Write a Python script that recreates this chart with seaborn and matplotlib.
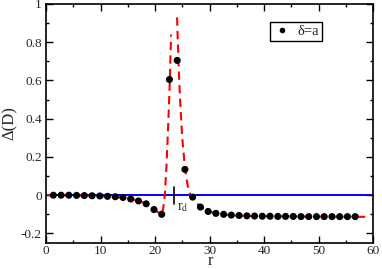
import numpy as np
import pandas as pd
import matplotlib
matplotlib.use("Agg")
import matplotlib.pyplot as plt
import seaborn as sns
from matplotlib.ticker import MultipleLocator

# data points (delta = a)
r_pts = [1.35, 2.77, 4.19, 5.61, 7.03, 8.45, 9.87, 11.29, 12.71, 14.13,
         15.55, 16.97, 18.39, 19.81, 21.23, 22.65, 24.07, 25.49, 26.91, 28.33,
         29.75, 31.17, 32.59, 34.01, 35.43, 36.85, 38.27, 39.69, 41.11, 42.53,
         43.95, 45.37, 46.79, 48.21, 49.63, 51.05, 52.47, 53.89, 55.31, 56.73]
d_pts = [0.0, 0.0, 0.0, -0.001, -0.002, -0.003, -0.004, -0.006, -0.008, -0.012,
         -0.02, -0.03, -0.045, -0.075, -0.1, 0.605, 0.705, 0.135, -0.01, -0.062,
         -0.085, -0.095, -0.1, -0.104, -0.106, -0.108, -0.109, -0.11, -0.11, -0.111,
         -0.111, -0.111, -0.112, -0.112, -0.112, -0.112, -0.112, -0.112, -0.112, -0.112]

# theory curve, left branch (r < r_d)
r_left = [0.0, 5.0, 10.0, 12.0, 14.0, 16.0, 17.0, 18.4, 19.8, 20.5, 21.2, 21.5,
          21.8, 22.1, 22.4, 22.7, 22.95]
d_left = [0.0, -0.001, -0.005, -0.008, -0.013, -0.022, -0.03, -0.045, -0.073,
          -0.088, -0.1, -0.07, 0.0, 0.15, 0.35, 0.58, 0.84]
# theory curve, right branch (r > r_d)
r_right = [24.05, 24.3, 24.6, 25.0, 25.5, 26.0, 26.5, 27.0, 27.5, 28.3, 29.8,
           31.3, 33.0, 35.0, 40.0, 50.0, 59.3]
d_right = [0.93, 0.7, 0.5, 0.3, 0.14, 0.05, 0.0, -0.015, -0.035, -0.06, -0.085,
           -0.095, -0.102, -0.107, -0.11, -0.112, -0.113]

r_d = 23.4

sns.set_theme(style="ticks")
plt.rcParams['font.family'] = ['Liberation Serif', 'DejaVu Serif']
plt.rcParams['mathtext.fontset'] = 'stix'

fig = plt.figure(figsize=(3.82, 2.69), dpi=100)
ax = fig.add_axes([46/382, 1-243/269, (373-46)/382, (243-4)/269])

ax.axhline(0, color='#0000ff', lw=1.4, zorder=1)

sns.lineplot(x=r_left, y=d_left, ax=ax, color='#ff0000', lw=1.5,
             linestyle=(0, (4, 2.5)), sort=False, zorder=2)
sns.lineplot(x=r_right, y=d_right, ax=ax, color='#ff0000', lw=1.5,
             linestyle=(0, (4, 2.5)), sort=False, zorder=2)

df = pd.DataFrame({'r': r_pts, 'D': d_pts, 'lab': ['δ=a'] * len(r_pts)})
sns.scatterplot(data=df, x='r', y='D', hue='lab', palette=['black'], ax=ax,
                s=26, edgecolor='black', linewidth=0, zorder=3)

ax.plot([r_d, r_d], [-0.045, 0.045], color='black', lw=1.2, zorder=4)
ax.text(24.0, -0.065, r'r$_{\rm d}$', fontsize=10, va='center', ha='left')

ax.set_xlim(0, 60)
ax.set_ylim(-0.25, 1.0)
ax.xaxis.set_major_locator(MultipleLocator(10))
ax.xaxis.set_minor_locator(MultipleLocator(5))
ax.yaxis.set_major_locator(MultipleLocator(0.2))
ax.yaxis.set_minor_locator(MultipleLocator(0.1))
ax.set_yticks([-0.2, 0, 0.2, 0.4, 0.6, 0.8, 1])
ax.set_yticklabels(['-0.2', '0', '0.2', '0.4', '0.6', '0.8', '1'])
ax.tick_params(which='both', direction='in', top=True, right=True, labelsize=9.5,
               color='black', pad=3)
ax.tick_params(axis='x', which='both', pad=1.5)
ax.tick_params(which='major', length=5, width=1)
ax.tick_params(which='minor', length=2.5, width=1)
for s in ax.spines.values():
    s.set_color('black')
    s.set_linewidth(1.2)

ax.set_xlabel('r', fontsize=12)
ax.set_ylabel('Δ(D)', fontsize=12)
ax.xaxis.set_label_coords((210-46)/327, (243-261)/239)
ax.xaxis.label.set_verticalalignment('center')
ax.yaxis.set_label_coords((10-46)/327, 0.5)
ax.yaxis.label.set_verticalalignment('center')

leg = ax.legend(loc='upper right', bbox_to_anchor=((322-46)/327, (243-22)/239),
                borderaxespad=0, fontsize=10.5,
                frameon=True, fancybox=False, edgecolor='black', framealpha=1,
                handletextpad=0.5, borderpad=0.2, handlelength=1.2,
                markerscale=0.8)
leg.get_frame().set_linewidth(1.0)

fig.savefig('out.png', dpi=100)
